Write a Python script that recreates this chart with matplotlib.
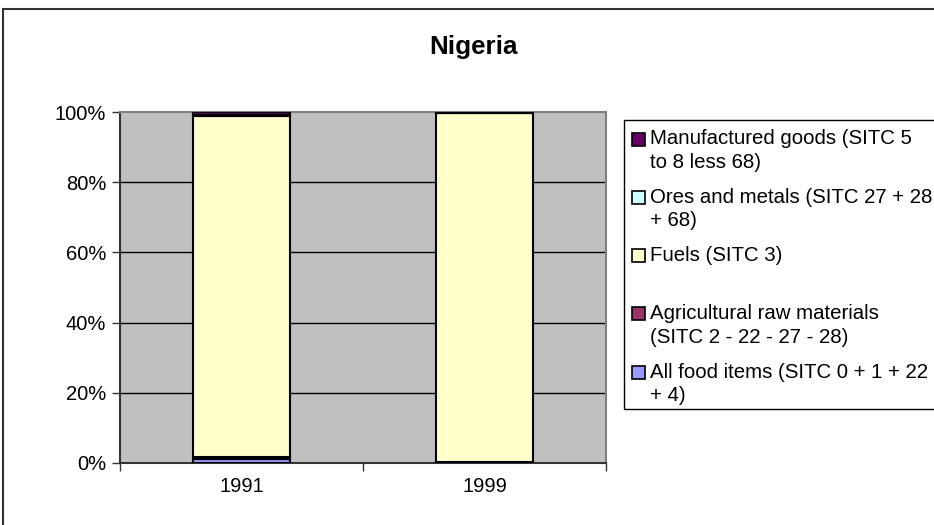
import matplotlib
matplotlib.use("Agg")
import matplotlib.pyplot as plt
from matplotlib.patches import Rectangle
from matplotlib.ticker import PercentFormatter

plt.rcParams['font.family'] = ['Liberation Sans', 'DejaVu Sans']

W, H = 934, 525
years = ["1991", "1999"]
series_names = [
    "All food items (SITC 0 + 1 + 22\n+ 4)",
    "Agricultural raw materials\n(SITC 2 - 22 - 27 - 28)",
    "Fuels (SITC 3)",
    "Ores and metals (SITC 27 + 28\n+ 68)",
    "Manufactured goods (SITC 5\nto 8 less 68)",
]
series_colors = ["#9999FF", "#993366", "#FFFFCC", "#CCFFFF", "#660066"]
food = [1.2, 0.2]
agri = [0.6, 0.2]
fuels = [97.2, 99.2]
ores = [0.1, 0.05]
manuf = [0.9, 0.35]
values = [food, agri, fuels, ores, manuf]
yticks = [0, 20, 40, 60, 80, 100]

fig = plt.figure(figsize=(W / 100, H / 100), dpi=100)

def fx(x):
    return x / W

def fy(y):
    return 1 - y / H

# chart border
fig.add_artist(Rectangle((fx(3), fy(535)), fx(945) - fx(3), fy(9) - fy(535),
                         transform=fig.transFigure, fill=False,
                         edgecolor="#333333", linewidth=1.5))

ax = fig.add_axes([fx(120), fy(463), fx(606) - fx(120), fy(112) - fy(463)])
ax.set_facecolor("#C0C0C0")

totals = [sum(v[i] for v in values) for i in range(len(years))]
x = list(range(len(years)))
bottom = [0.0] * len(years)
for vals, col in zip(values, series_colors):
    h = [v / t * 100 for v, t in zip(vals, totals)]
    ax.bar(x, h, width=0.4, bottom=bottom, color=col, edgecolor="black",
           linewidth=1.5, zorder=3)
    bottom = [b + hh for b, hh in zip(bottom, h)]

ax.set_xlim(-0.5, len(years) - 0.5)
ax.set_ylim(0, 100)
ax.set_yticks(yticks)
ax.yaxis.set_major_formatter(PercentFormatter(decimals=0))
ax.set_xticks(x)
ax.set_xticklabels(years)
ax.set_xticks([-0.5, 0.5, 1.5], minor=True)
ax.tick_params(axis='x', which='major', length=0, pad=10, labelsize=14.5)
ax.tick_params(axis='x', which='minor', length=6, width=1, color="#333333",
               direction='out')
ax.tick_params(axis='y', length=6, width=1, color="#333333", direction='out',
               pad=4, labelsize=14.5)
for yv in yticks[1:-1]:
    ax.axhline(yv, color="black", linewidth=1, zorder=1)
ax.spines['top'].set_color("#808080")
ax.spines['right'].set_color("#808080")
ax.spines['left'].set_color("#333333")
ax.spines['bottom'].set_color("#333333")
for s in ax.spines.values():
    s.set_linewidth(1.5)

fig.text(fx(474), fy(54), "Nigeria", ha="center", va="baseline",
         fontsize=18.7, fontweight="bold")

# legend (drawn manually, clipped at right edge like the reference)
fig.add_artist(Rectangle((fx(624), fy(409)), fx(960) - fx(624), fy(120) - fy(409),
                         transform=fig.transFigure, facecolor="white",
                         edgecolor="black", linewidth=1))
order = list(range(len(series_names)))[::-1]
for k, idx in enumerate(order):
    yc = 139 + k * 58.3
    fig.add_artist(Rectangle((fx(632), fy(yc + 6.5)), fx(645) - fx(632), fy(yc - 6.5) - fy(yc + 6.5),
                             transform=fig.transFigure, facecolor=series_colors[idx],
                             edgecolor="black", linewidth=1.2))
    for j, line in enumerate(series_names[idx].split("\n")):
        fig.text(fx(650), fy(yc + j * 23.5), line, ha="left", va="center",
                 fontsize=14.7)

fig.savefig("out.png", dpi=100)
